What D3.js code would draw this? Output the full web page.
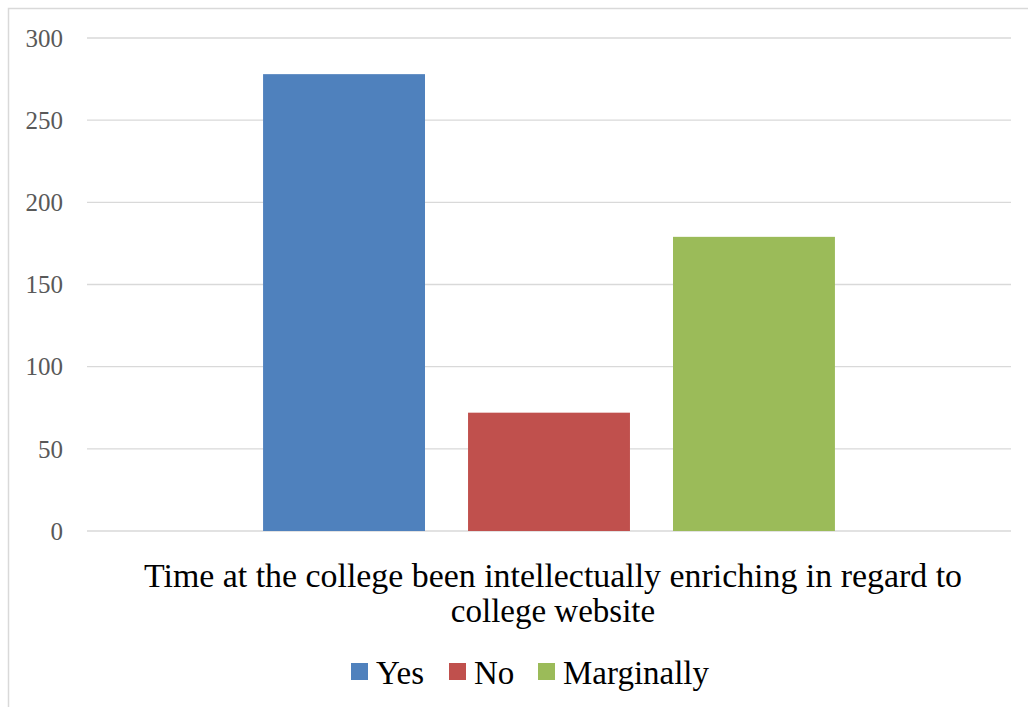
<!DOCTYPE html>
<html><head><meta charset="utf-8">
<script src="https://cdn.jsdelivr.net/npm/d3@7"></script>
<style>html,body{margin:0;padding:0;background:#fff;}svg{display:block;}</style>
</head><body>
<div id="chart"></div>
<script>
const series = ["Yes", "No", "Marginally"];
const values = [278, 72, 179];
const colors = ["#4F81BD", "#C0504D", "#9BBB59"];
const yTicks = [0, 50, 100, 150, 200, 250, 300];
const categoryLines = ["Time at the college been intellectually enriching in regard to", "college website"];

const W = 1028, H = 707;
const svg = d3.select("#chart").append("svg").attr("width", W).attr("height", H);
const font = "'Liberation Serif', 'Times New Roman', serif";

// frame (top and left visible)
svg.append("path").attr("d", `M8.5,${H} V8.5 H${W}`).attr("fill", "none").attr("stroke", "#d9d9d9").attr("stroke-width", 1.5);

const plot = {left: 87, right: 1011, top: 38, bottom: 531};
const y = d3.scaleLinear().domain([0, 300]).range([plot.bottom, plot.top]);
const x = d3.scaleBand().domain(series).range([plot.left, plot.right]).paddingInner(0.21).paddingOuter(0.859);

// gridlines
svg.append("g").selectAll("line").data(yTicks).join("line")
  .attr("x1", plot.left).attr("x2", plot.right)
  .attr("y1", d => y(d)).attr("y2", d => y(d))
  .attr("stroke", "#d9d9d9").attr("stroke-width", 1.3);

// y labels
svg.append("g").selectAll("text").data(yTicks).join("text")
  .attr("x", 63).attr("y", d => y(d)).attr("dy", "0.35em")
  .attr("text-anchor", "end").attr("font-family", font).attr("font-size", 25)
  .attr("fill", "#595959").text(d => d);

// bars
svg.append("g").selectAll("rect").data(series).join("rect")
  .attr("x", d => x(d)).attr("width", x.bandwidth())
  .attr("y", (d, i) => y(values[i])).attr("height", (d, i) => y(0) - y(values[i]))
  .attr("fill", (d, i) => colors[i]);

// category label
svg.append("g").selectAll("text").data(categoryLines).join("text")
  .attr("x", (plot.left + plot.right) / 2 + 4).attr("y", (d, i) => 587 + i * 35)
  .attr("text-anchor", "middle").attr("font-family", font).attr("font-size", 33)
  .attr("fill", "#000").text(d => d)
  .each(function(d, i) { if (i === 0) d3.select(this).attr("textLength", 818).attr("lengthAdjust", "spacingAndGlyphs"); });

// legend
const legendX = [351, 449, 538];
const lg = svg.append("g").selectAll("g").data(series).join("g")
  .attr("transform", (d, i) => `translate(${legendX[i]},663)`);
lg.append("rect").attr("width", 17).attr("height", 17).attr("fill", (d, i) => colors[i]);
lg.append("text").attr("x", 25).attr("y", 21).attr("font-family", font).attr("font-size", 33)
  .attr("fill", "#000").text(d => d);
</script>
</body></html>
